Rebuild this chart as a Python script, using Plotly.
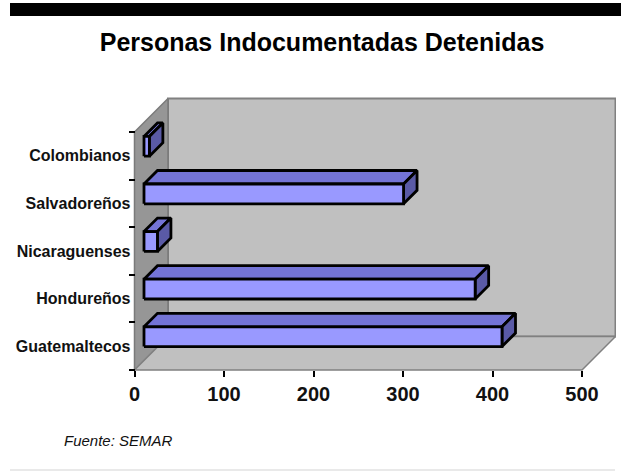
import plotly.graph_objects as go

# ---- data ----
categories = ["Guatemaltecos", "Hondureños", "Nicaraguenses", "Salvadoreños", "Colombianos"]
values = [400, 370, 15, 290, 6]
x_ticks = [0, 100, 200, 300, 400, 500]
title_text = "Personas Indocumentadas Detenidas"
source_text = "Fuente: SEMAR"

# ---- geometry (pixel -> data scale) ----
W, H = 621, 475
PX0, PXS = 134.5, 0.895      # pixel of x=0, pixels per unit
PY0, PYS = 370.0, 47.6       # pixel of y=0, pixels per category slot
DEPTH = 33.5                 # oblique depth of the walls (px)
BAR_F, BAR_B = 9.5, 23.0     # bar front / back depth (px)
BAR_H = 0.416                # bar thickness in slot units
XMAX = x_ticks[-1]
NCAT = len(categories)

def dx(px):
    return px / PXS

def dy(px):
    return px / PYS

area = dict(x0=130, x1=616, y0=94, y1=374)
xr = [(area["x0"] - PX0) / PXS, (area["x1"] - PX0) / PXS]
yr = [(PY0 - area["y1"]) / PYS, (PY0 - area["y0"]) / PYS]

fig = go.Figure()

def poly(pts, fill, line, lw):
    xs = [p[0] for p in pts] + [pts[0][0]]
    ys = [p[1] for p in pts] + [pts[0][1]]
    fig.add_trace(go.Scatter(x=xs, y=ys, mode="lines", fill="toself",
                             fillcolor=fill, line=dict(color=line, width=lw),
                             hoverinfo="skip", showlegend=False))

Dx, Dy = dx(DEPTH), dy(DEPTH)
# back wall
poly([(Dx, Dy), (XMAX + Dx, Dy), (XMAX + Dx, NCAT + Dy), (Dx, NCAT + Dy)],
     "#c0c0c0", "#808080", 2)
# left wall
poly([(0, 0), (0, NCAT), (Dx, NCAT + Dy), (Dx, Dy)], "#969696", "#7a7a7a", 1.5)
# floor
poly([(0, 0), (XMAX, 0), (XMAX + Dx, Dy), (Dx, Dy)], "#c0c0c0", "#808080", 1.5)

# bars
fx, fy = dx(BAR_F), dy(BAR_F)
bx, by = dx(BAR_B), dy(BAR_B)
for i, v in enumerate(values):
    c = i + 0.5
    bot_f = c - BAR_H / 2 + fy
    top_f = c + BAR_H / 2 + fy
    bot_b = c - BAR_H / 2 + by
    top_b = c + BAR_H / 2 + by
    # top face
    poly([(fx, top_f), (fx + v, top_f), (bx + v, top_b), (bx, top_b)],
         "#7474d6", "#000000", 2.8)
    # side face
    poly([(fx + v, bot_f), (fx + v, top_f), (bx + v, top_b), (bx + v, bot_b)],
         "#5a5aa6", "#000000", 2.8)
    # front face
    poly([(fx, bot_f), (fx + v, bot_f), (fx + v, top_f), (fx, top_f)],
         "#9999ff", "#000000", 2.8)

# dummy trace for tick axis
fig.add_trace(go.Scatter(x=[0], y=[0], yaxis="y2", mode="markers",
                         marker=dict(opacity=0), hoverinfo="skip", showlegend=False))

fig.update_layout(
    width=W, height=H,
    margin=dict(l=0, r=0, t=0, b=0),
    paper_bgcolor="white", plot_bgcolor="rgba(0,0,0,0)",
    showlegend=False,
    font=dict(family="Liberation Sans, Arial, sans-serif", color="#111111"),
    title=dict(text=title_text, x=322 / W, xanchor="center",
               y=1 - 42 / H, yanchor="middle", yref="container",
               font=dict(size=25, weight="bold", color="#000000")),
    xaxis=dict(domain=[area["x0"] / W, area["x1"] / W], range=xr,
               anchor="free", position=1 - PY0 / H,
               tickvals=x_ticks, ticks="outside", ticklen=6, tickwidth=1.5,
               tickcolor="#000000", showgrid=False, zeroline=False, showline=False,
               tickfont=dict(size=20, weight="bold", color="#111111")),
    yaxis=dict(domain=[1 - area["y1"] / H, 1 - area["y0"] / H], range=yr,
               anchor="free", position=PX0 / W,
               tickvals=[i + 0.5 for i in range(NCAT)], ticktext=categories,
               ticks="", showgrid=False, zeroline=False, showline=False,
               ticklabelstandoff=4,
               tickfont=dict(size=16, weight="bold", color="#111111")),
    yaxis2=dict(domain=[1 - area["y1"] / H, 1 - area["y0"] / H], range=yr,
                overlaying="y", anchor="free", position=PX0 / W, side="left",
                tickvals=list(range(NCAT + 1)), ticks="outside", ticklen=6,
                tickwidth=1.5, tickcolor="#000000", showticklabels=False,
                showgrid=False, zeroline=False, showline=False),
    shapes=[
        dict(type="rect", xref="paper", yref="paper", x0=10 / W, x1=1,
             y0=1 - 16 / H, y1=1 - 3 / H, fillcolor="#000000", line=dict(width=0)),
        dict(type="line", xref="paper", yref="paper", x0=10 / W, x1=615 / W,
             y0=1 - 470 / H, y1=1 - 470 / H, line=dict(color="#e2e2e2", width=1.5)),
    ],
    annotations=[
        dict(text=source_text, xref="paper", yref="paper", x=62 / W, y=1 - 440 / H,
             xanchor="left", yanchor="middle", showarrow=False,
             font=dict(size=15, style="italic", color="#111111")),
    ],
)

fig.write_html("out.html", config={"displayModeBar": False},
               post_script="document.body.style.margin='0';document.body.style.padding='0';")
